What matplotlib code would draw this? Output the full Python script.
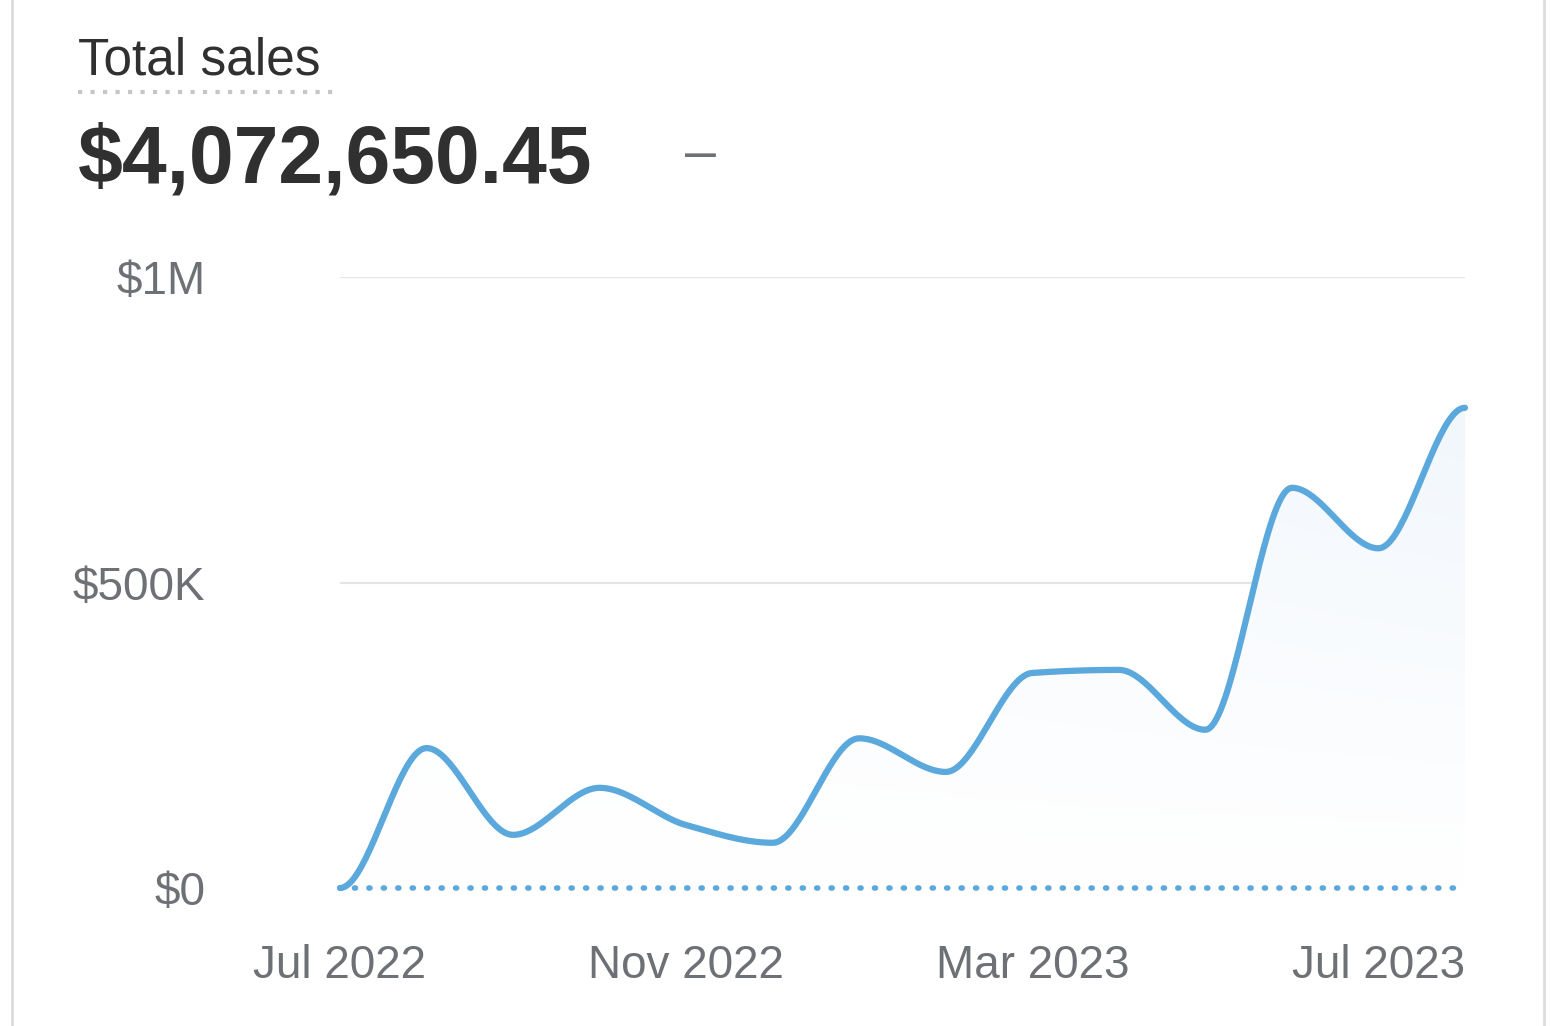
import matplotlib
matplotlib.use("Agg")
import matplotlib.pyplot as plt
import numpy as np
from matplotlib.patches import Rectangle

plt.rcParams["font.family"] = ["Liberation Sans", "DejaVu Sans"]

months = ["Jul 2022", "Aug 2022", "Sep 2022", "Oct 2022", "Nov 2022", "Dec 2022", "Jan 2023",
          "Feb 2023", "Mar 2023", "Apr 2023", "May 2023", "Jun 2023", "Jul 2023", "Aug 2023"]
sales = [0, 229000, 87000, 164000, 103000, 74000, 245000, 190000, 352000, 357000, 259000, 655000, 556000, 786000]
comparison = [0] * len(months)
tick_labels = ["Jul 2022", "Nov 2022", "Mar 2023", "Jul 2023"]

BLUE = "#5aa8dc"
GREY = "#6d7175"


def monotone(x, y, n=40):
    # Fritsch-Carlson monotone cubic, flat at the ends like the reference
    x = np.asarray(x, float); y = np.asarray(y, float)
    h = np.diff(x); d = np.diff(y) / h
    m = np.zeros_like(y)
    for i in range(1, len(y) - 1):
        if d[i - 1] * d[i] > 0:
            m[i] = 2 / (1 / d[i - 1] + 1 / d[i])
    xs, ys = [], []
    for i in range(len(h)):
        t = np.linspace(0, 1, n, endpoint=False)
        h00 = 2 * t**3 - 3 * t**2 + 1; h10 = t**3 - 2 * t**2 + t
        h01 = -2 * t**3 + 3 * t**2; h11 = t**3 - t**2
        xs.append(x[i] + t * h[i])
        ys.append(h00 * y[i] + h10 * h[i] * m[i] + h01 * y[i + 1] + h11 * h[i] * m[i + 1])
    xs.append([x[-1]]); ys.append([y[-1]])
    return np.concatenate(xs), np.concatenate(ys)


fig = plt.figure(figsize=(15.56, 10.26), dpi=100)
fig.patches.append(Rectangle((0.008, -0.01), 0.984, 1.02, transform=fig.transFigure,
                             fill=False, edgecolor="#dcdcdc", linewidth=2))

fig.text(0.05, 0.927, "Total sales", fontsize=37, color="#303030", va="baseline")
fig.add_artist(plt.Line2D([0.05, 0.217], [0.910, 0.910], transform=fig.transFigure,
                          color="#c4c6c8", linestyle=(0, (1, 2)), linewidth=3))
fig.text(0.05, 0.822, "$4,072,650.45", fontsize=58, fontweight="bold", color="#303030", va="baseline")
fig.text(0.44, 0.835, "–", fontsize=40, color=GREY, va="baseline")

ax = fig.add_axes([0.2185, 0.1345, 0.723, 0.5955])
x = np.arange(len(months))
xs, ys = monotone(x, sales)

ax.plot(xs, ys, color=BLUE, linewidth=4.5, solid_capstyle="round", clip_on=False, zorder=3)
ax.plot(x, comparison, color=BLUE, linewidth=4, linestyle=(0, (0.2, 2.4)),
        dash_capstyle="round", clip_on=False, zorder=2)

# faint gradient under the curve
grad = np.linspace(0, 1, 256).reshape(-1, 1) * np.linspace(0.3, 1, 256).reshape(1, -1)
im = ax.imshow(grad, extent=[0, 13, 0, 1e6], aspect="auto", origin="lower",
               cmap=matplotlib.colors.LinearSegmentedColormap.from_list(
                   "g", ["#ffffff", "#eef5fc"]), zorder=1)
poly = ax.fill_between(xs, 0, ys, color="none")
im.set_clip_path(poly.get_paths()[0], transform=ax.transData)

ax.set_xlim(0, 13)
ax.set_ylim(0, 1e6)
ax.set_yticks([0, 500000, 1000000])
ax.set_yticklabels(["$0", "$500K", "$1M"])
ax.set_xticks([0, 4, 8, 12])
ax.set_xticklabels(tick_labels)
ax.grid(axis="y", color="#e4e5e7", linewidth=1.5)
ax.set_axisbelow(True)
for s in ax.spines.values():
    s.set_visible(False)
ax.tick_params(length=0, labelsize=33, colors=GREY)
ax.tick_params(axis="y", pad=97)
ax.tick_params(axis="x", pad=40)
for lab in ax.get_yticklabels():
    lab.set_horizontalalignment("right")

fig.savefig("out.png", dpi=100, facecolor="white")
